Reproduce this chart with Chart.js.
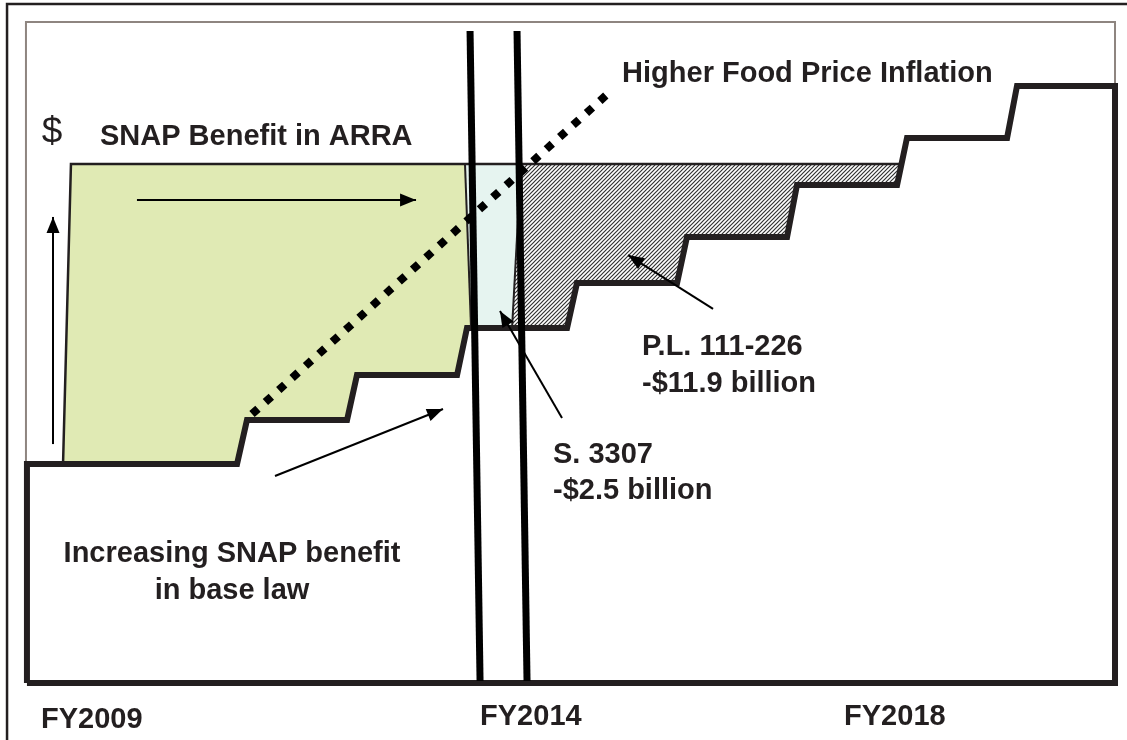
<!DOCTYPE html>
<html>
<head>
<meta charset="utf-8">
<script src="https://cdn.jsdelivr.net/npm/chart.js"></script>
<style>
  html, body { margin: 0; padding: 0; background: #fff; }
  canvas { display: block; }
</style>
</head>
<body>
<canvas id="snapChart" width="1127" height="740"></canvas>
<script>
// x = fiscal year, y = benefit level (index, base law FY2009 = 100)
const stepYears = [2010, 2011, 2012, 2013, 2014, 2015, 2016, 2017];
const baseLevels = [100, 120.1, 140.6, 162.1, 182.6, 203.7, 227.4, 248.9, 272.6];
const riseHalf = 0.045;
const lawStart = 2008.045;
const lawEnd = 2017.936;
const arraLevel = 237;

// ARRA benefit block (green), S. 3307 cut (light blue), P.L. 111-226 cut (hatched)
const arraShape = [[2008.373, 100], [2008.445, 237], [2012.027, 237], [2012.082, 162.1], [2012.027, 162.1],
  [2011.955, 140.6], [2011.045, 140.6], [2010.964, 120.1], [2010.045, 120.1], [2009.955, 100]];
const s3307Shape = [[2012.027, 237], [2012.536, 237], [2012.455, 162.1], [2012.082, 162.1]];
const pl111Shape = [[2012.536, 237], [2015.991, 237], [2015.964, 227.4], [2015.045, 227.4], [2014.973, 203.7],
  [2014.036, 203.7], [2013.964, 182.6], [2013.045, 182.6], [2012.964, 162.1], [2012.455, 162.1]];

const inflationLine = [[2010.091, 122.8], [2013.364, 270.8]];
const fy2014Lines = [[[2012.073, 297.7], [2012.164, 0.9]], [[2012.5, 297.7], [2012.591, 0.9]]];

const arrows = [
  [[2009.045, 220.5], [2011.582, 220.5]],
  [[2008.282, 109.1], [2008.282, 212.8]],
  [[2010.3, 94.5], [2011.827, 125.1]],
  [[2014.282, 170.8], [2013.509, 195.4]],
  [[2012.909, 121.0], [2012.345, 169.9]]
];

const labels = [
  { text: "$", x: 2008.18, y: 246.6, align: "left", bold: false, size: 37 },
  { text: "SNAP Benefit in ARRA", x: 2008.709, y: 245.7, align: "left" },
  { text: "Higher Food Price Inflation", x: 2013.455, y: 274.4, align: "left" },
  { text: "P.L. 111-226", x: 2013.636, y: 149.8, align: "left" },
  { text: "-$11.9 billion", x: 2013.636, y: 132.9, align: "left" },
  { text: "S. 3307", x: 2012.827, y: 100.5, align: "left" },
  { text: "-$2.5 billion", x: 2012.827, y: 84.0, align: "left" },
  { text: "Increasing SNAP benefit", x: 2009.909, y: 55.3, align: "center" },
  { text: "in base law", x: 2009.909, y: 38.4, align: "center" },
  { text: "FY2009", x: 2008.173, y: -20.5, align: "left" },
  { text: "FY2014", x: 2012.164, y: -19.2, align: "left" },
  { text: "FY2018", x: 2015.473, y: -19.2, align: "left" }
];

const ink = "#231F20";
const pts = (arr) => arr.map(([x, y]) => ({ x, y }));

const baseLaw = [{ x: lawStart, y: 0 }, { x: lawStart, y: baseLevels[0] }];
stepYears.forEach((yr, i) => {
  baseLaw.push({ x: yr - riseHalf, y: baseLevels[i] });
  baseLaw.push({ x: yr + riseHalf, y: baseLevels[i + 1] });
});
baseLaw.push({ x: lawEnd, y: baseLevels[baseLevels.length - 1] }, { x: lawEnd, y: 0 }, { x: lawStart, y: 0 });

// diagonal hatch
const tile = document.createElement("canvas");
tile.width = 4;
tile.height = 4;
const tg = tile.getContext("2d");
tg.strokeStyle = "#333";
tg.lineWidth = 1.2;
tg.beginPath();
tg.moveTo(0, 4); tg.lineTo(4, 0);
tg.moveTo(-1, 1); tg.lineTo(1, -1);
tg.moveTo(3, 5); tg.lineTo(5, 3);
tg.stroke();
const hatch = tg.createPattern(tile, "repeat");

const line = (data, opts) => Object.assign({
  data, showLine: true, fill: false, pointRadius: 0, borderColor: ink, borderWidth: 2.5, tension: 0
}, opts);

const datasets = [
  line(pts(arraShape), { fill: "shape", backgroundColor: "#E0EAB4", borderWidth: 0, order: 9 }),
  line(pts(s3307Shape), { fill: "shape", backgroundColor: "#E6F4F0", borderWidth: 0, order: 8 }),
  line(pts(pl111Shape), { fill: "shape", backgroundColor: hatch, borderWidth: 0, order: 7 }),
  // plot frame (grey) and outer frame
  line(pts([[2008.036, 0], [2008.036, 301.8], [2017.936, 301.8], [2017.936, 0]]), { borderColor: "#8E8580", borderWidth: 2, order: 6 }),
  line(pts([[2007.864, -26.1], [2007.864, 310.0], [2018.1, 310.0]]), { borderWidth: 2.5, order: 6 }),
  // outlines of the ARRA / cut areas
  line(pts([[2008.373, 100], [2008.445, arraLevel], [2015.991, arraLevel]]), { order: 5 }),
  line(pts([[2012.027, arraLevel], [2012.082, 162.1]]), { borderWidth: 2, order: 5 }),
  line(pts([[2012.536, arraLevel], [2012.455, 162.1]]), { borderWidth: 2, order: 5 }),
  line(pts(inflationLine), { borderWidth: 8, borderDash: [8, 10], borderCapStyle: "butt", borderColor: "#000", order: 4 }),
  line(baseLaw, { borderWidth: 6, order: 3 }),
  ...arrows.map((a) => line(pts(a), { borderWidth: 2, borderColor: "#000", arrow: true, order: 2 })),
  ...fy2014Lines.map((l) => line(pts(l), { borderWidth: 7, borderColor: "#000", order: 1 }))
];

const arrowHeads = {
  id: "arrowHeads",
  afterDatasetsDraw(chart) {
    const ctx = chart.ctx;
    chart.data.datasets.forEach((ds, i) => {
      if (!ds.arrow) return;
      const p = chart.getDatasetMeta(i).data;
      const a = p[p.length - 2], b = p[p.length - 1];
      const ang = Math.atan2(b.y - a.y, b.x - a.x);
      ctx.save();
      ctx.translate(b.x, b.y);
      ctx.rotate(ang);
      ctx.fillStyle = ds.borderColor;
      ctx.beginPath();
      ctx.moveTo(0, 0);
      ctx.lineTo(-16, -6.5);
      ctx.lineTo(-16, 6.5);
      ctx.closePath();
      ctx.fill();
      ctx.restore();
    });
  }
};

const textLabels = {
  id: "textLabels",
  afterDraw(chart) {
    const ctx = chart.ctx;
    const xs = chart.scales.x, ys = chart.scales.y;
    ctx.save();
    ctx.fillStyle = ink;
    ctx.textBaseline = "alphabetic";
    labels.forEach((l) => {
      ctx.font = (l.bold === false ? "" : "bold ") + (l.size || 29) + "px 'Liberation Sans', Arial, sans-serif";
      ctx.textAlign = l.align;
      ctx.fillText(l.text, xs.getPixelForValue(l.x), ys.getPixelForValue(l.y));
    });
    ctx.restore();
  }
};

new Chart("snapChart", {
  type: "line",
  data: { datasets },
  options: {
    responsive: false,
    animation: false,
    layout: { padding: 0 },
    plugins: { legend: { display: false }, tooltip: { enabled: false } },
    scales: {
      x: { type: "linear", min: 2007.8, max: 2018.045, display: false },
      y: { type: "linear", min: -26.03, max: 311.87, display: false }
    }
  },
  plugins: [arrowHeads, textLabels]
});
</script>
</body>
</html>
